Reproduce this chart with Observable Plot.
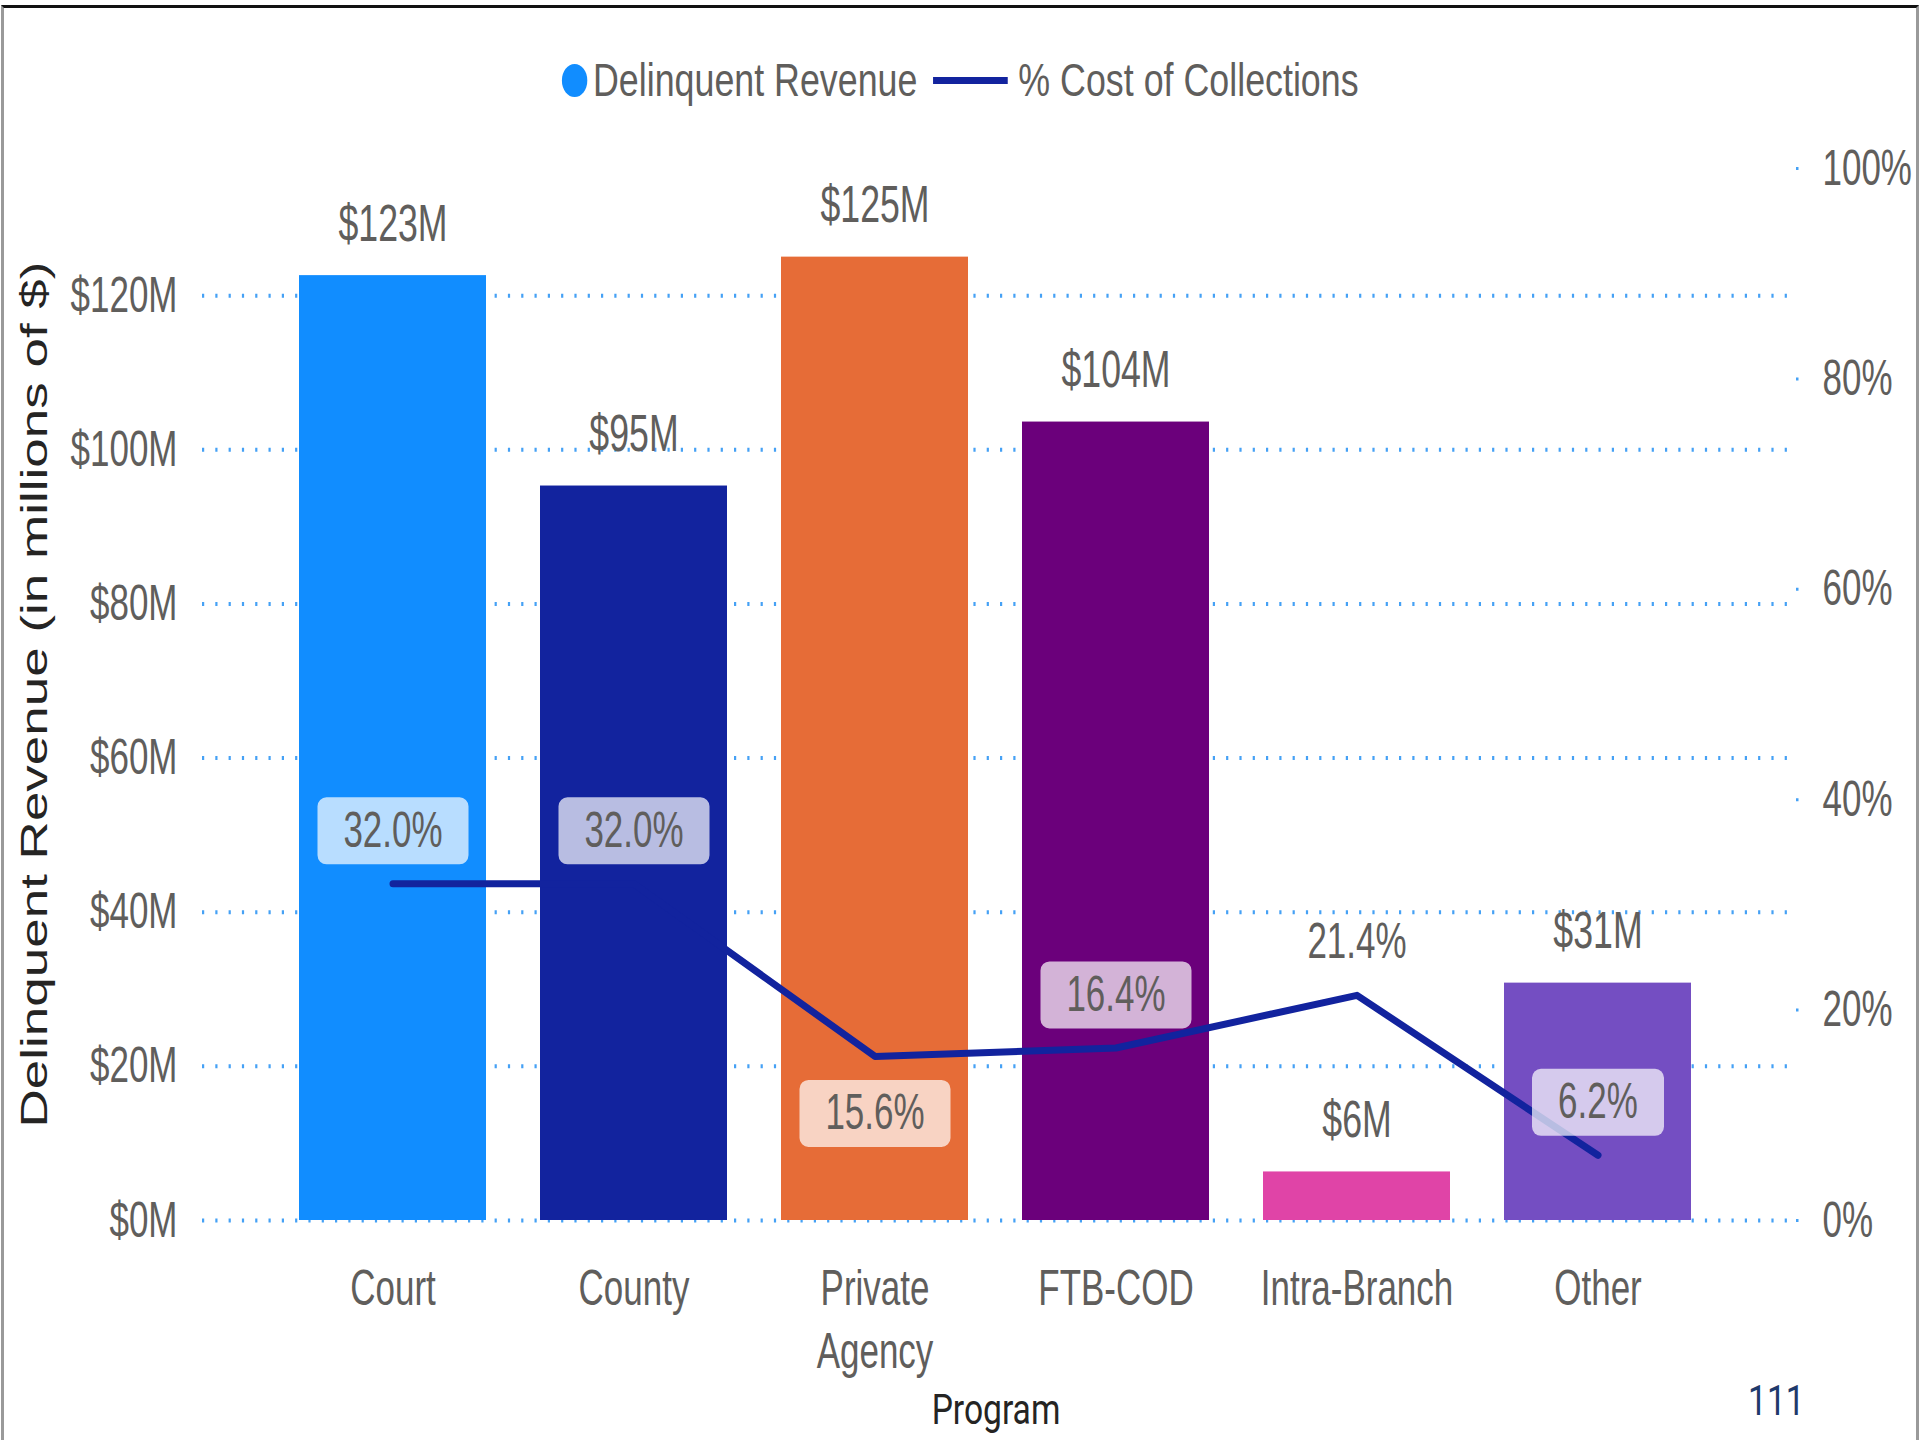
<!DOCTYPE html>
<html><head><meta charset="utf-8">
<script src="https://cdn.jsdelivr.net/npm/d3@7"></script>
<script src="https://cdn.jsdelivr.net/npm/@observablehq/plot@0.6"></script>
<style>
html,body{margin:0;padding:0;background:#fff;}
body{width:1921px;height:1440px;position:relative;overflow:hidden;font-family:"Liberation Sans",Arial,sans-serif;}
#border{position:absolute;left:1px;top:5px;width:1918px;height:1440px;box-sizing:border-box;border-top:3px solid #111;border-left:3px solid #9a9a9a;border-right:3px solid #9a9a9a;pointer-events:none;z-index:5;}
#legend{position:absolute;top:40px;left:0;width:1921px;height:80px;display:flex;justify-content:center;align-items:center;transform:scaleX(0.77);transform-origin:960px 50%;font-size:46.5px;color:#605E5C;white-space:nowrap;}
.sw-dot{width:33px;height:33px;border-radius:50%;background:#118DFF;margin-right:7px;flex:none;}
.sw-line{width:97px;height:7px;background:#12239E;margin:0 14px 0 20px;flex:none;}
#chart{position:absolute;top:120px;left:0;}
#page{position:absolute;left:1748px;top:1380px;font-family:Roboto,sans-serif;font-size:42px;line-height:1;color:#1F3A6B;transform:scaleX(0.8);transform-origin:0 0;}
</style></head>
<body>
<div id="border"></div>
<div id="legend"><span class="sw-dot"></span><span>Delinquent Revenue</span><span class="sw-line"></span><span>% Cost of Collections</span></div>
<div id="chart"></div>
<div id="page">111</div>
<script>
// ---- data ----
const programs = ["Court", "County", "Private Agency", "FTB-COD", "Intra-Branch", "Other"];
const revenue = [122.6, 95.3, 125.0, 103.6, 6.3, 30.8];      // $M
const costPct = [32.0, 32.0, 15.6, 16.4, 21.4, 6.2];          // %
const barColors = ["#118DFF", "#12239E", "#E66C37", "#6B007B", "#E044A7", "#744EC2"];
const leftTicks = [0, 20, 40, 60, 80, 100, 120];
const rightTicks = [0, 20, 40, 60, 80, 100];
const pctLabelsBelow = ["Private Agency"];

// ---- build ----
const K = 136.5; // left-axis value that aligns with 100% on the right axis
const table = programs.map((p, i) => ({program: p, revenue: revenue[i], pct: costPct[i], pctY: costPct[i] / 100 * K,
  pctLabel: costPct[i].toFixed(1) + "%", revLabel: "$" + Math.round(revenue[i]) + "M"}));
const above = table.filter(d => !pctLabelsBelow.includes(d.program));
const below = table.filter(d => pctLabelsBelow.includes(d.program));

const gridColor = "#45A1F5";
const textColor = "#605E5C";
const lineColor = "#12239E";

function roundRect(w, h, r) {
  return {draw(ctx) {
    const x = -w / 2, y = -h / 2;
    ctx.moveTo(x + r, y);
    ctx.lineTo(x + w - r, y); ctx.arcTo(x + w, y, x + w, y + r, r);
    ctx.lineTo(x + w, y + h - r); ctx.arcTo(x + w, y + h, x + w - r, y + h, r);
    ctx.lineTo(x + r, y + h); ctx.arcTo(x, y + h, x, y + h - r, r);
    ctx.lineTo(x, y + r); ctx.arcTo(x, y, x + r, y, r);
    ctx.closePath();
  }};
}

// badges only where the label sits on top of its bar
function badgeMarks(rows, dy) {
  const inBar = rows.filter(d => (d.pctY + dy * -K / 1052) < d.revenue);
  return Array.from(d3.group(inBar, d => d.pctLabel.length), ([len, rs]) =>
    Plot.dot(rs, {x: "program", y: "pctY", dy, r: 10, symbol: roundRect(56 + 19 * len, 67, 9), fill: "white", fillOpacity: 0.7}));
}

const chart = Plot.plot({
  width: 1921,
  height: 1320,
  marginTop: 48,
  marginBottom: 220,
  marginLeft: 202,
  marginRight: 132,
  style: {fontFamily: "'Liberation Sans', Arial, sans-serif", fontSize: "50px", color: textColor, background: "transparent"},
  x: {type: "band", domain: programs, paddingInner: 0.224, paddingOuter: 0.399},
  y: {domain: [0, K]},
  color: {domain: programs, range: barColors},
  marks: [
    Plot.ruleY(leftTicks, {stroke: gridColor, strokeWidth: 4, strokeDasharray: "2.2,11.1"}),
    Plot.barY(table, {x: "program", y: "revenue", fill: "program"}),
    Plot.line(table, {x: "program", y: "pctY", stroke: lineColor, strokeWidth: 7, strokeLinecap: "round", strokeLinejoin: "round"}),
    ...badgeMarks(above, -53),
    ...badgeMarks(below, 57),
    Plot.text(above, {x: "program", y: "pctY", text: "pctLabel", dy: -53, fontSize: 50, fill: textColor}),
    Plot.text(below, {x: "program", y: "pctY", text: "pctLabel", dy: 57, fontSize: 50, fill: textColor}),
    Plot.text(table, {x: "program", y: "revenue", text: "revLabel", dy: -51, fontSize: 51, fill: textColor}),
    Plot.axisY(leftTicks, {anchor: "left", tickSize: 0, tickPadding: 25, tickFormat: d => `$${d}M`, fontSize: 50,
      label: "Delinquent Revenue (in millions of $)", labelAnchor: "center", labelArrow: "none", labelOffset: 182}),
    Plot.axisY(rightTicks.map(p => p / 100 * K), {anchor: "right", tickSize: 9, tickPadding: 24, fontSize: 50,
      stroke: gridColor, strokeWidth: 3, strokeDasharray: "0,6,2.5,20",
      tickFormat: v => Math.round(v / K * 100) + "%", label: null}),
    Plot.axisX({anchor: "bottom", tickSize: 0, tickPadding: 40, fontSize: 50, lineHeight: 1.26,
      tickFormat: d => d.replace(" ", "\n"), label: "Program", labelAnchor: "center", labelOffset: 203})
  ]
});
document.getElementById("chart").append(chart);

// horizontally condensed look of the original text
chart.querySelectorAll("text").forEach(el => {
  const g = el.closest("g[aria-label]");
  const lab = g ? g.getAttribute("aria-label") : "";
  let sx = 0.7;
  if (lab === "x-axis label") {
    el.setAttribute("font-family", "Roboto, sans-serif");
    el.setAttribute("font-size", 42);
    el.setAttribute("font-weight", 400);
    el.setAttribute("fill", "#252423");
    sx = 0.8;
  } else if (lab === "y-axis label") {
    el.setAttribute("font-size", 53);
    el.setAttribute("fill", "#252423");
  }
  const t = el.getAttribute("transform") || "";
  const rotated = /rotate/.test(t);
  el.setAttribute("transform", (t + (rotated ? ` scale(1,${sx})` : ` scale(${sx},1)`)).trim());
});
</script>
</body></html>
